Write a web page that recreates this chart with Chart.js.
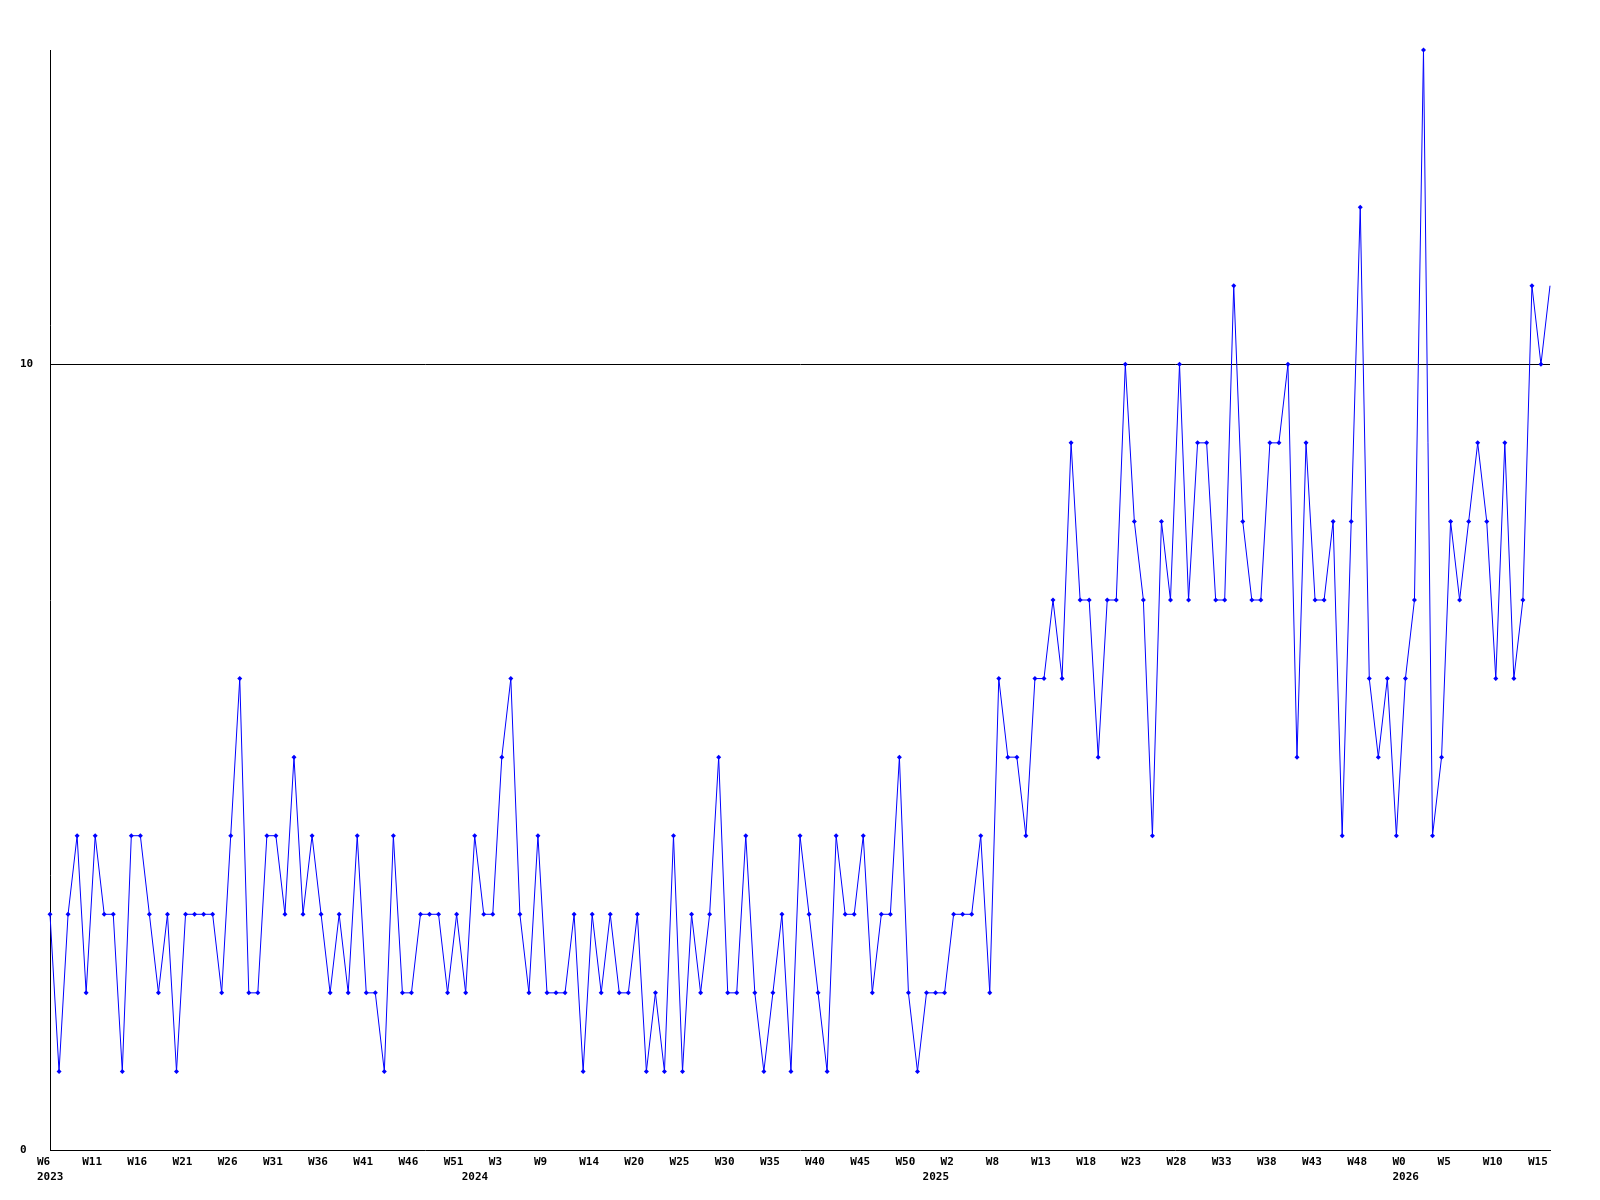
<!DOCTYPE html>
<html>
<head>
<meta charset="utf-8">
<script src="https://cdn.jsdelivr.net/npm/chart.js@4"></script>
<style>
  body { margin: 0; background: #fff; }
  #wrap { width: 1600px; height: 1200px; }
</style>
</head>
<body>
<div id="wrap"><canvas id="mycanvas" width="1600" height="1200"></canvas></div>
<script>
// weekly counts, W6 2023 .. W16 2026
var counts = [
	3,1,3,4,2,4,3,3,1,4, 4,3,2,3,1,3,3,3,3,2, 4,6,2,2,4,4,3,5,3,4,
	3,2,3,2,4,2,2,1,4,2, 2,3,3,3,2,3,2,4,3,3, 5,6,3,2,4,2,2,2,3,1,
	3,2,3,2,2,3,1,2,1,4, 1,3,2,3,5,2,2,4,2,1, 2,3,1,4,3,2,1,4,3,3,
	4,2,3,3,5,2,1,2,2,2, 3,3,3,4,2,6,5,5,4,6, 6,7,6,9,7,7,5,7,7,10,
	8,7,4,8,7,10,7,9,9,7, 7,11,8,7,7,9,9,10,5,9, 7,7,8,4,8,12,6,5,6,4,
	6,7,14,4,5,8,7,8,9,8, 6,9,6,7,11,10,11
];

// one week label every 5 points
var weekTicks = ['W6','W11','W16','W21','W26','W31','W36','W41','W46','W51',
	'W3','W9','W14','W20','W25','W30','W35','W40','W45','W50',
	'W2','W8','W13','W18','W23','W28','W33','W38','W43','W48',
	'W0','W5','W10','W15'];
var yearLabels = ['2023','2024','2025','2026'];
var yearStart = [0, 47, 98, 150];
var yTicks = [0, 10];

var labels = [];
for (var i = 0; i < counts.length; i++) {
	var week = (i % 5 === 0 && weekTicks[i / 5]) ? weekTicks[i / 5] : '';
	var y = yearStart.indexOf(i);
	var year = y >= 0 ? yearLabels[y] : '';
	labels.push(week || year ? [week, year] : '');
}

var tickFont = { family: '"DejaVu Sans Mono", "Liberation Mono", monospace', size: 11, weight: 'bold', lineHeight: '15px' };

var ctx = document.getElementById('mycanvas');
var chart = new Chart(ctx, {
	type: 'line',
	data: {
		labels: labels,
		datasets: [{
			data: counts,
			borderColor: '#0000ff',
			backgroundColor: '#0000ff',
			borderWidth: 1,
			tension: 0,
			fill: false,
			clip: false,
			pointStyle: 'rectRot',
			pointRadius: function(c) { return c.dataIndex === counts.length - 1 ? 0 : 2.5; },
			pointBorderWidth: 0,
			pointBackgroundColor: '#0000ff'
		}]
	},
	options: {
		responsive: false,
		animation: false,
		layout: { padding: { left: 20, top: 50, right: 50, bottom: 0 } },
		plugins: { legend: { display: false }, tooltip: { enabled: false } },
		scales: {
			x: {
				type: 'category',
				offset: false,
				grid: { display: false, drawTicks: false },
				border: { display: true, color: '#000', width: 1 },
				ticks: {
					autoSkip: false,
					maxRotation: 0,
					minRotation: 0,
					align: 'start',
					labelOffset: -13,
					padding: 5,
					color: '#000',
					font: tickFont
				},
				afterFit: function(scale) { scale.height = 50; }
			},
			y: {
				min: 0,
				max: 14,
				grid: {
					drawTicks: false,
					color: function(c) { return c.tick && c.tick.value === 10 ? '#000' : 'rgba(0,0,0,0)'; }
				},
				border: { display: true, color: '#000', width: 1 },
				ticks: {
					crossAlign: 'far',
					padding: 0,
					color: '#000',
					font: tickFont
				},
				afterBuildTicks: function(scale) {
					scale.ticks = yTicks.map(function(v) { return { value: v }; });
				},
				afterFit: function(scale) { scale.width = 30; }
			}
		}
	}
});
</script>
</body>
</html>
